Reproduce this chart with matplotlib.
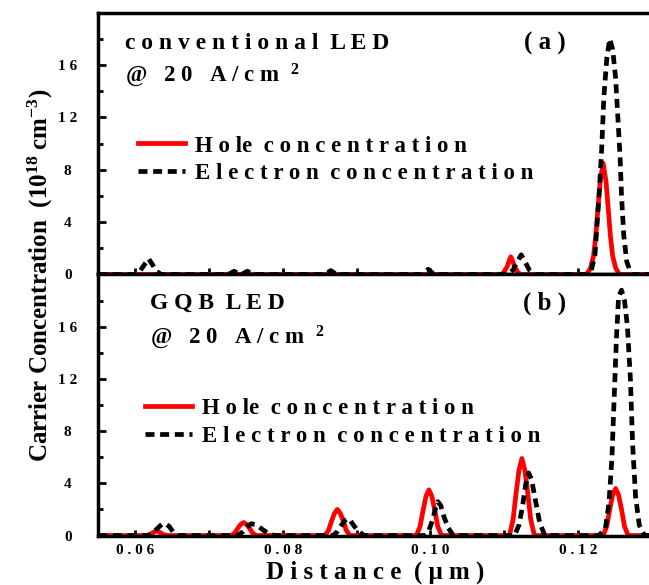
import matplotlib
matplotlib.use("Agg")
import matplotlib.pyplot as plt
from matplotlib.ticker import MultipleLocator, FixedLocator, FixedFormatter

# ── Data (distance in um, concentration in 1e18 cm^-3) ──

# (a) conventional LED
hole_a_x = [0.055, 0.1096, 0.1100, 0.1104, 0.1107, 0.1109, 0.1111, 0.1114, 0.1118, 0.1122,
            0.1212, 0.1217, 0.1221, 0.1224, 0.1227, 0.1230, 0.1234, 0.1238, 0.1241, 0.1244,
            0.1247, 0.1251, 0.1256, 0.130]
hole_a_y = [0, 0, 0.2, 0.6, 1.1, 1.35, 1.1, 0.6, 0.2, 0,
            0, 0.5, 1.4, 2.9, 5.0, 7.1, 8.5, 7.1, 5.0, 2.9,
            1.4, 0.5, 0, 0]

elec_a_x = [0.055, 0.0601, 0.0607, 0.0613, 0.0618, 0.0623, 0.0628, 0.0635,
            0.0726, 0.0734, 0.0742, 0.0744, 0.0752, 0.0760,
            0.0857, 0.0865, 0.0873, 0.0989, 0.0997, 0.1005,
            0.1106, 0.1112, 0.1118, 0.1123, 0.1128, 0.1134, 0.1141,
            0.1210, 0.1218, 0.1223, 0.1226, 0.1229, 0.1232, 0.1235, 0.1239, 0.1243,
            0.1247, 0.1251, 0.1254, 0.1257, 0.1259, 0.1262, 0.1266, 0.1272, 0.130]
elec_a_y = [0, 0, 0.3, 0.8, 1.2, 0.8, 0.3, 0,
            0, 0.25, 0, 0, 0.25, 0,
            0, 0.3, 0, 0, 0.4, 0,
            0, 0.35, 1.0, 1.5, 1.0, 0.35, 0,
            0, 0.3, 1.5, 4.0, 6.5, 9.5, 13.5, 16.5, 18.0,
            17.2, 15.0, 12.0, 9.0, 6.0, 3.0, 1.0, 0, 0]

# (b) GQB LED
hole_b_x = [0.055,
            0.0614, 0.0620, 0.0625, 0.0629, 0.0633, 0.0638, 0.0644,
            0.0730, 0.0735, 0.0739, 0.0743, 0.0747, 0.0751, 0.0755, 0.0759, 0.0764,
            0.0857, 0.0862, 0.0866, 0.0870, 0.0874, 0.0878, 0.0882, 0.0886, 0.0891,
            0.0981, 0.0986, 0.0990, 0.0994, 0.0998, 0.1002, 0.1006, 0.1010, 0.1015,
            0.1107, 0.1112, 0.1116, 0.1120, 0.1124, 0.1128, 0.1132, 0.1136, 0.1141,
            0.1234, 0.1239, 0.1243, 0.1247, 0.1251, 0.1255, 0.1259, 0.1263, 0.1268,
            0.130]
hole_b_y = [0,
            0, 0.08, 0.25, 0.35, 0.25, 0.08, 0,
            0, 0.2, 0.55, 0.85, 1.0, 0.85, 0.55, 0.2, 0,
            0, 0.4, 1.1, 1.7, 2.0, 1.7, 1.1, 0.4, 0,
            0, 0.7, 1.9, 3.0, 3.5, 3.0, 1.9, 0.7, 0,
            0, 1.2, 3.2, 5.0, 5.9, 5.0, 3.2, 1.2, 0,
            0, 0.7, 2.0, 3.1, 3.6, 3.1, 2.0, 0.7, 0,
            0]

elec_b_x = [0.055,
            0.0618, 0.0625, 0.0631, 0.0636, 0.0641, 0.0646, 0.0651, 0.0658,
            0.0739, 0.0746, 0.0752, 0.0757, 0.0762, 0.0768, 0.0774, 0.0781, 0.0789,
            0.0868, 0.0874, 0.0879, 0.0884, 0.0888, 0.0892, 0.0897, 0.0903, 0.0910,
            0.0993, 0.0998, 0.1003, 0.1007, 0.1010, 0.1014, 0.1018, 0.1024, 0.1031,
            0.1114, 0.1120, 0.1125, 0.1129, 0.1133, 0.1137, 0.1142, 0.1148, 0.1155,
            0.1228, 0.1237, 0.1242, 0.1246, 0.1249, 0.1252, 0.1255, 0.1259, 0.1263,
            0.1267, 0.1271, 0.1274, 0.1278, 0.1283, 0.1290,
            0.130]
elec_b_y = [0,
            0, 0.25, 0.6, 0.85, 0.9, 0.7, 0.3, 0,
            0, 0.3, 0.7, 0.9, 0.85, 0.65, 0.4, 0.15, 0,
            0, 0.3, 0.75, 1.15, 1.3, 1.1, 0.7, 0.3, 0,
            0, 0.4, 1.2, 2.1, 2.6, 2.3, 1.5, 0.6, 0,
            0, 0.8, 2.3, 3.9, 4.8, 4.3, 2.8, 1.0, 0,
            0, 0.5, 2.5, 6.0, 10.5, 15.0, 18.3, 18.8, 18.0,
            16.0, 12.0, 7.0, 3.0, 0.8, 0,
            0]

y_ticks = [0, 4, 8, 12, 16]
y_tick_labels = ["0", "4", "8", "1 2", "1 6"]
x_ticks = [0.06, 0.08, 0.10, 0.12]
x_tick_labels = ["0 . 0 6", "0 . 0 8", "0 . 1 0", "0 . 1 2"]

hole_label = "H o le  c o n c e n t r a t i o n"
elec_label = "E l e c t r o n  c o n c e n t r a t i o n"

plt.rcParams["font.family"] = "Liberation Serif"
plt.rcParams["font.weight"] = "bold"
plt.rcParams["axes.labelweight"] = "bold"
plt.rcParams["mathtext.fontset"] = "custom"
plt.rcParams["mathtext.rm"] = "Liberation Serif:bold"
plt.rcParams["mathtext.it"] = "Liberation Serif:bold"
plt.rcParams["mathtext.bf"] = "Liberation Serif:bold"

fig = plt.figure(figsize=(6.49, 5.85), dpi=100)
ax_a = fig.add_axes([98.3 / 649, 0.5308, 553.5 / 649, 0.4475])
ax_b = fig.add_axes([98.3 / 649, 0.0846, 553.5 / 649, 0.4462])

dash = (1.9, 1.2)

for ax, hx, hy, ex, ey in [(ax_a, hole_a_x, hole_a_y, elec_a_x, elec_a_y),
                           (ax_b, hole_b_x, hole_b_y, elec_b_x, elec_b_y)]:
    ax.plot(hx, hy, color="#ff0000", lw=3.4, label=hole_label, solid_joinstyle="round")
    ax.plot(ex, ey, color="black", lw=3.4, dashes=dash, label=elec_label)
    ax.set_xlim(0.055, 0.130)
    ax.set_ylim(0, 20)

    ax.yaxis.set_major_locator(FixedLocator(y_ticks))
    ax.yaxis.set_major_formatter(FixedFormatter(y_tick_labels))
    ax.yaxis.set_minor_locator(MultipleLocator(2))
    ax.xaxis.set_major_locator(FixedLocator(x_ticks))
    ax.xaxis.set_minor_locator(MultipleLocator(0.01))

    ax.tick_params(axis="y", which="major", direction="in", length=6, width=2,
                   pad=22, labelsize=11)
    ax.tick_params(axis="y", which="minor", direction="in", length=3.5, width=2)
    ax.tick_params(axis="x", which="both", direction="in", length=4, width=2)
    for lab in ax.get_yticklabels():
        lab.set_horizontalalignment("center")
    for sp in ax.spines.values():
        sp.set_linewidth(2.5)

    ax.legend(frameon=False, fontsize=16.5, handlelength=2.05, handletextpad=0.45,
              labelspacing=0.3, borderpad=0, borderaxespad=0, loc="upper left",
              bbox_to_anchor=(0.072, 0.531) if ax is ax_a else (0.084, 0.526))

ax_a.tick_params(axis="x", labelbottom=False)
ax_b.xaxis.set_major_formatter(FixedFormatter(x_tick_labels))
ax_b.tick_params(axis="x", which="major", pad=6, labelsize=11)

# panel annotations
ax_a.text(0.048, 0.884, "c o n v e n t i o n a l  L E D", transform=ax_a.transAxes,
          ha="left", va="center", fontsize=17)
ax_a.text(0.048, 0.762, "@   2 0   A / c m  $^{2}$", transform=ax_a.transAxes,
          ha="left", va="center", fontsize=16.5)
ax_a.text(0.807, 0.884, "( a )", transform=ax_a.transAxes,
          ha="center", va="center", fontsize=18)

ax_b.text(0.093, 0.891, "G Q B  L E D", transform=ax_b.transAxes,
          ha="left", va="center", fontsize=17)
ax_b.text(0.093, 0.761, "@   2 0   A / c m  $^{2}$", transform=ax_b.transAxes,
          ha="left", va="center", fontsize=16.5)
ax_b.text(0.807, 0.891, "( b )", transform=ax_b.transAxes,
          ha="center", va="center", fontsize=18)

ax_b.set_xlabel("D i s t a n c e  ( μ m )", fontsize=18, labelpad=3)
fig.text(40 / 649, 1 - 275 / 585, "Carrier Concentration  (10$^{18}$ cm$^{-3}$)",
         rotation=90, ha="center", va="center", fontsize=18)

fig.savefig("out.png", dpi=100)
